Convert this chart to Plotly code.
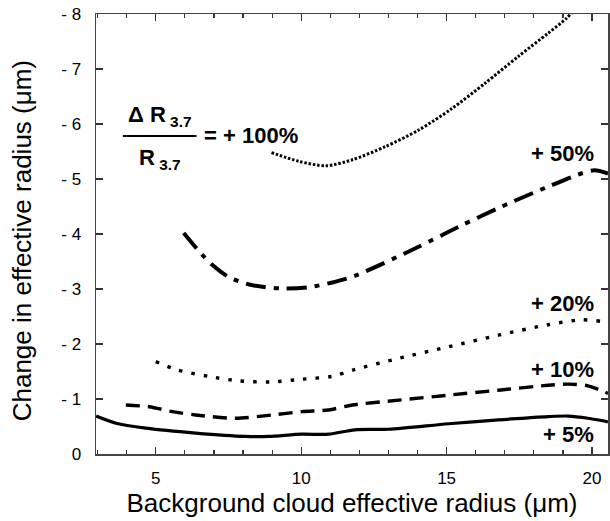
import plotly.graph_objects as go

# +100% curve
x100 = [8.98, 9.93, 10.85, 11.76, 12.9, 14.04, 15.18, 16.32, 17.47, 18.49, 19.12, 19.4]
y100 = [5.48, 5.32, 5.24, 5.35, 5.59, 5.89, 6.28, 6.74, 7.23, 7.65, 7.92, 8.08]
# +50% curve
x50 = [5.96, 6.6, 6.94, 7.5, 8.31, 9.34, 10.24, 11.16, 11.85, 13.93, 15.41, 16.9, 18.49, 19.63, 20.09, 20.55]
y50 = [4.02, 3.62, 3.44, 3.22, 3.07, 3.01, 3.03, 3.13, 3.24, 3.74, 4.13, 4.50, 4.86, 5.10, 5.16, 5.10]
# +20% curve
x20 = [5.0, 5.74, 6.83, 7.85, 8.94, 10.02, 11.05, 11.8, 13.36, 15.07, 16.78, 18.49, 19.63, 20.32, 20.55]
y20 = [1.68, 1.53, 1.41, 1.33, 1.31, 1.36, 1.41, 1.53, 1.74, 1.95, 2.16, 2.35, 2.44, 2.41, 2.38]
# +10% curve
x10 = [3.97, 4.77, 5.57, 6.37, 7.74, 9.0, 10.02, 10.94, 11.76, 13.36, 15.07, 16.78, 18.49, 19.18, 19.86, 20.43, 20.55]
y10 = [0.89, 0.86, 0.77, 0.71, 0.65, 0.71, 0.77, 0.80, 0.89, 0.98, 1.07, 1.16, 1.25, 1.27, 1.24, 1.13, 1.10]
# +5% curve
x5 = [2.95, 3.63, 4.66, 6.37, 8.08, 8.88, 10.02, 10.94, 11.85, 13.01, 15.07, 16.78, 18.49, 19.18, 19.86, 20.49, 20.55]
y5 = [0.69, 0.56, 0.47, 0.38, 0.32, 0.32, 0.36, 0.36, 0.44, 0.45, 0.55, 0.62, 0.68, 0.69, 0.65, 0.59, 0.58]

curve_labels = ["+ 50%", "+ 20%", "+ 10%", "+ 5%"]
label_y = [5.47, 2.74, 1.54, 0.36]
label_x = 20.14

y_ticks = [0, 1, 2, 3, 4, 5, 6, 7, 8]
y_ticktext = ["0", "- 1", "- 2", "- 3", "- 4", "- 5", "- 6", "- 7", "- 8"]
x_ticks = [5, 10, 15, 20]

FONT = "Liberation Sans, Arial, Helvetica, sans-serif"

fig = go.Figure()

def add(x, y, dash, width):
    fig.add_trace(go.Scatter(x=x, y=y, mode="lines",
                             line=dict(color="black", width=width, dash=dash, shape="spline", smoothing=0.8),
                             showlegend=False, hoverinfo="skip"))

add(x100, y100, "2.5px,1.8px", 3)
add(x50, y50, "20px,8px,5px,8px", 4)
add(x20, y20, "3.5px,9px", 3.4)
add(x10, y10, "14px,8px", 3.4)
add(x5, y5, "solid", 3.2)

for t, yy in zip(curve_labels, label_y):
    fig.add_annotation(x=label_x, y=yy, text="<b>" + t + "</b>", showarrow=False,
                       xanchor="right", yanchor="middle",
                       font=dict(family=FONT, size=22, color="black"))

# fraction legend text for the +100% curve
fig.add_annotation(x=5.14, y=6.15, text="<b>\u0394 R<sub> 3.7</sub></b>", showarrow=False,
                   xanchor="center", yanchor="middle", font=dict(family=FONT, size=22, color="black"))
fig.add_annotation(x=5.14, y=5.37, text="<b>R<sub> 3.7</sub></b>", showarrow=False,
                   xanchor="center", yanchor="middle", font=dict(family=FONT, size=22, color="black"))
fig.add_shape(type="line", x0=3.87, x1=6.40, y0=5.78, y1=5.78, line=dict(color="black", width=2))
fig.add_annotation(x=6.6, y=5.8, text="<b>= + 100%</b>", showarrow=False,
                   xanchor="left", yanchor="middle", font=dict(family=FONT, size=22, color="black"))

# y-axis title
fig.add_annotation(xref="paper", yref="paper", x=-0.144, y=0.484, text="Change in effective radius (\u03bcm)",
                   textangle=-90, showarrow=False, xanchor="center", yanchor="middle",
                   font=dict(family=FONT, size=26, color="black"))

fig.update_layout(
    width=610, height=521,
    margin=dict(l=96, r=0, t=14, b=67),
    paper_bgcolor="white", plot_bgcolor="white",
    font=dict(family=FONT, color="black"),
)
fig.update_xaxes(
    range=[2.945, 20.55], tickvals=x_ticks, ticks="inside", ticklen=7, tickwidth=1.2,
    tickcolor="#333", showline=True, linecolor="#444", linewidth=1.5, mirror="ticks",
    showgrid=False, zeroline=False, tickfont=dict(size=17, family=FONT),
    ticklabelstandoff=8,
    minor=dict(dtick=1, ticks="inside", ticklen=4, tickcolor="#333", showgrid=False),
    title=dict(text="Background cloud effective radius (\u03bcm)", font=dict(size=26, family=FONT), standoff=6),
)
fig.update_yaxes(
    range=[0, 8], tickvals=y_ticks, ticktext=y_ticktext, ticks="inside", ticklen=7, tickwidth=1.2,
    tickcolor="#333", showline=True, linecolor="#444", linewidth=1.5, mirror="ticks",
    showgrid=False, zeroline=False, tickfont=dict(size=17, family=FONT),
    ticklabelstandoff=10,
)

fig.write_html("out.html", config={"displayModeBar": False, "staticPlot": True},
               post_script="document.body.style.margin='0px';document.body.style.overflow='hidden';")
